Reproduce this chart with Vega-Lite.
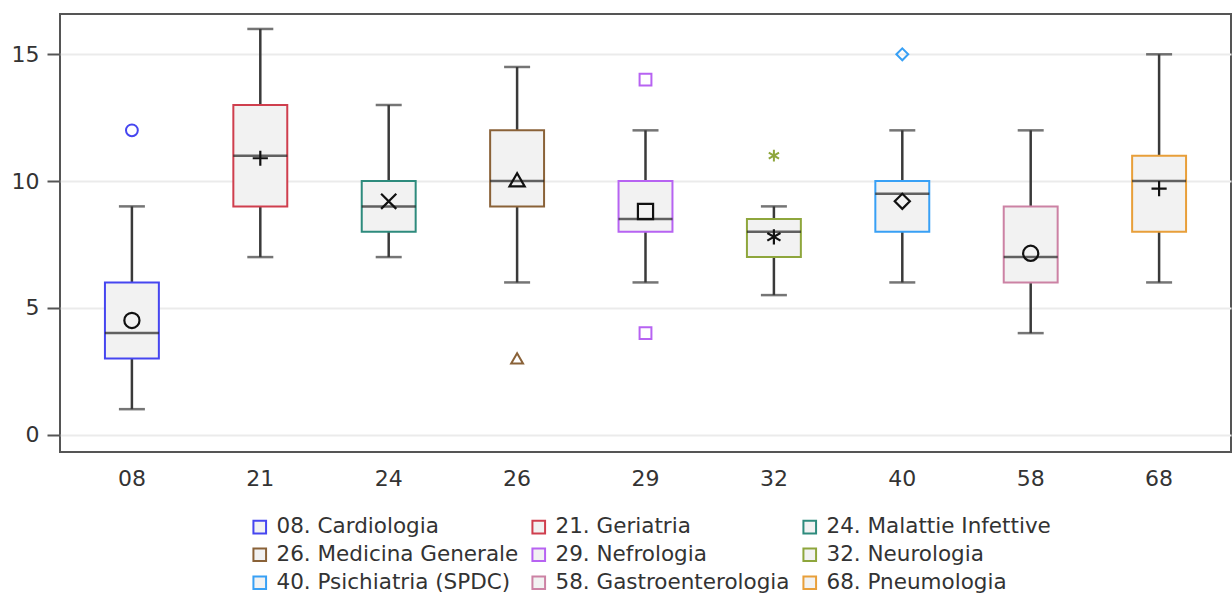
{
  "$schema": "https://vega.github.io/schema/vega-lite/v6.json",
  "autosize": "none",
  "width": 1171,
  "height": 438,
  "padding": {"left": 60, "top": 14, "right": 1, "bottom": 141},
  "background": "white",
  "config": {
    "font": "DejaVu Sans",
    "view": {"stroke": "#555555", "strokeWidth": 2}
  },
  "datasets": {
    "boxes": [
      {"code": "08", "reparto": "08. Cardiologia", "lo": 1, "q1": 3, "med": 4, "q3": 6, "hi": 9, "mean": 4.5},
      {"code": "21", "reparto": "21. Geriatria", "lo": 7, "q1": 9, "med": 11, "q3": 13, "hi": 16, "mean": 10.9},
      {"code": "24", "reparto": "24. Malattie Infettive", "lo": 7, "q1": 8, "med": 9, "q3": 10, "hi": 13, "mean": 9.2},
      {"code": "26", "reparto": "26. Medicina Generale", "lo": 6, "q1": 9, "med": 10, "q3": 12, "hi": 14.5, "mean": 10.05},
      {"code": "29", "reparto": "29. Nefrologia", "lo": 6, "q1": 8, "med": 8.5, "q3": 10, "hi": 12, "mean": 8.8},
      {"code": "32", "reparto": "32. Neurologia", "lo": 5.5, "q1": 7, "med": 8, "q3": 8.5, "hi": 9, "mean": 7.8},
      {"code": "40", "reparto": "40. Psichiatria (SPDC)", "lo": 6, "q1": 8, "med": 9.5, "q3": 10, "hi": 12, "mean": 9.2},
      {"code": "58", "reparto": "58. Gastroenterologia", "lo": 4, "q1": 6, "med": 7, "q3": 9, "hi": 12, "mean": 7.15},
      {"code": "68", "reparto": "68. Pneumologia", "lo": 6, "q1": 8, "med": 10, "q3": 11, "hi": 15, "mean": 9.7}
    ],
    "outliers": [
      {"code": "08", "reparto": "08. Cardiologia", "value": 12},
      {"code": "26", "reparto": "26. Medicina Generale", "value": 3},
      {"code": "29", "reparto": "29. Nefrologia", "value": 14},
      {"code": "29", "reparto": "29. Nefrologia", "value": 4},
      {"code": "32", "reparto": "32. Neurologia", "value": 11},
      {"code": "40", "reparto": "40. Psichiatria (SPDC)", "value": 15}
    ]
  },
  "data": {"name": "boxes"},
  "encoding": {
    "x": {
      "field": "code", "type": "nominal",
      "scale": {"domain": ["08","21","24","26","29","32","40","58","68"], "paddingInner": 0.58, "paddingOuter": 0.35},
      "axis": {"title": null, "labelAngle": 0, "labelFontSize": 22, "labelColor": "#333333", "ticks": false, "domain": false, "labelPadding": 16, "grid": false}
    }
  },
  "layer": [
    {
      "mark": {"type": "rule", "color": "#3a3a3a", "strokeWidth": 2.5},
      "encoding": {
        "y": {
          "field": "lo", "type": "quantitative",
          "scale": {"domain": [-0.69, 16.59], "nice": false, "zero": false},
          "axis": {"title": null, "values": [0, 5, 10, 15], "labelFontSize": 22, "labelColor": "#333333", "tickSize": 13, "tickColor": "#555555", "tickWidth": 2, "labelPadding": 8, "domain": false, "grid": true, "gridColor": "#ebebeb", "gridWidth": 2}
        },
        "y2": {"field": "hi"}
      }
    },
    {
      "mark": {"type": "tick", "color": "#3a3a3a", "thickness": 2.5, "size": 26},
      "encoding": {"y": {"field": "lo", "type": "quantitative"}}
    },
    {
      "mark": {"type": "tick", "color": "#3a3a3a", "thickness": 2.5, "size": 26},
      "encoding": {"y": {"field": "hi", "type": "quantitative"}}
    },
    {
      "mark": {"type": "bar", "fill": "#f2f2f2", "strokeWidth": 2},
      "encoding": {
        "y": {"field": "q1", "type": "quantitative"},
        "y2": {"field": "q3"},
        "stroke": {
          "field": "reparto", "type": "nominal",
          "scale": {
            "domain": ["08. Cardiologia","21. Geriatria","24. Malattie Infettive","26. Medicina Generale","29. Nefrologia","32. Neurologia","40. Psichiatria (SPDC)","58. Gastroenterologia","68. Pneumologia"],
            "range": ["#4646f0","#cf3f4e","#2e8b7d","#8a6238","#b763f2","#8ea63c","#38a0f5","#cc82a4","#e89f3a"]
          },
          "legend": {
            "title": null, "orient": "none", "direction": "horizontal", "legendX": 189, "legendY": 502, "columns": 3,
            "labelFontSize": 21.5, "labelColor": "#333333", "labelLimit": 500, "symbolType": "square", "symbolSize": 160,
            "symbolStrokeWidth": 2, "symbolFillColor": "#f2f2f2", "columnPadding": 9, "rowPadding": 5, "labelOffset": 6
          }
        }
      }
    },
    {
      "mark": {"type": "tick", "color": "#222222", "thickness": 2.5, "size": 54},
      "encoding": {"y": {"field": "med", "type": "quantitative"}}
    },
    {
      "mark": {"type": "point", "filled": false, "strokeWidth": 2.2, "size": 230, "stroke": "#111111", "opacity": 1},
      "encoding": {
        "y": {"field": "mean", "type": "quantitative"},
        "shape": {
          "field": "code", "type": "nominal",
          "scale": {
            "domain": ["08","21","24","26","29","32","40","58","68"],
            "range": ["circle","M-1,0L1,0M0,-1L0,1","M-1,-1L1,1M-1,1L1,-1","triangle-up","square","M0,-1L0,1M-0.866,-0.5L0.866,0.5M-0.866,0.5L0.866,-0.5","diamond","circle","M-1,0L1,0M0,-1L0,1"]
          },
          "legend": null
        }
      }
    },
    {
      "data": {"name": "outliers"},
      "mark": {"type": "point", "filled": false, "strokeWidth": 2, "size": 140, "opacity": 1},
      "encoding": {
        "y": {"field": "value", "type": "quantitative"},
        "shape": {"field": "code", "type": "nominal", "legend": null},
        "stroke": {"field": "reparto", "type": "nominal", "legend": null}
      }
    }
  ]
}
